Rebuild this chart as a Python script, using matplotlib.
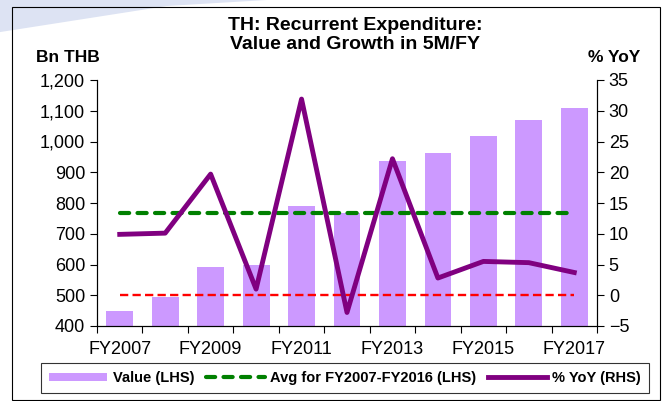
import matplotlib.pyplot as plt
from matplotlib.patches import Rectangle, Polygon
from matplotlib.ticker import FuncFormatter, FixedLocator
import numpy as np

plt.rcParams['font.family'] = ['Liberation Sans', 'DejaVu Sans']

years = ['FY2007', 'FY2008', 'FY2009', 'FY2010', 'FY2011', 'FY2012',
         'FY2013', 'FY2014', 'FY2015', 'FY2016', 'FY2017']
value = [450, 495, 592, 597, 789, 767, 937, 963, 1017, 1070, 1109]
yoy = [9.9, 10.1, 19.7, 1.0, 31.9, -2.8, 22.2, 2.8, 5.5, 5.3, 3.7]
avg_value = np.mean(value[:10])

fig = plt.figure(figsize=(6.67, 4.01), dpi=100)

# outer frame and faint watermark stripe
fig.patches.append(Rectangle((12 / 667, 1 - 400 / 401), 648 / 667, 393 / 401,
                             transform=fig.transFigure, fill=False,
                             edgecolor='black', linewidth=0.8))
fig.patches.append(Polygon([(0, 1), (0.4, 1), (0.25, 0.985), (0, 0.92)],
                           closed=True, transform=fig.transFigure,
                           facecolor='#dde3f3', edgecolor='none', zorder=-1))

ax = fig.add_axes([97 / 667, 1 - 326 / 401, 500 / 667, 246 / 401])
x = np.arange(len(years))

bars = ax.bar(x, value, width=0.59, color='#cc99ff', label='Value (LHS)', zorder=1)
avg_line, = ax.plot([x[0], x[-1]], [avg_value, avg_value], color='green',
                    linestyle=(0, (2.2, 2.0)), dash_capstyle='round', linewidth=3,
                    label='Avg for FY2007-FY2016 (LHS)', zorder=3)
ax.plot([x[0], x[-1]], [500, 500], color='red', linestyle=(0, (3.5, 1.8)), linewidth=1.7, zorder=2)
ax.set_ylim(400, 1200)
ax.set_xlim(-0.5, len(years) - 0.5)
ax.set_yticks(range(400, 1201, 100))
ax.yaxis.set_major_formatter(FuncFormatter(lambda v, p: f'{int(v):,}'))

ax.xaxis.set_major_locator(FixedLocator(np.arange(-0.5, len(years), 1)))
ax.set_xticklabels([])
ax.xaxis.set_minor_locator(FixedLocator(x[::2]))
ax.set_xticklabels(years[::2], minor=True)
ax.tick_params(axis='x', which='minor', length=0, labelsize=13, pad=11)
ax.tick_params(axis='x', which='major', length=5, direction='out')
ax.tick_params(axis='y', labelsize=13, length=5)

ax2 = ax.twinx()
yoy_line, = ax2.plot(x, yoy, color='#800080', linewidth=3.5, label='% YoY (RHS)', zorder=4)
ax2.set_ylim(-5, 35)
ax2.set_yticks(range(-5, 36, 5))
ax2.tick_params(axis='y', labelsize=13, length=5)

for a in (ax, ax2):
    a.spines['top'].set_visible(False)
    for s in a.spines.values():
        s.set_linewidth(0.8)

fig.text(355 / 667, 1 - 35 / 401, 'TH: Recurrent Expenditure:\nValue and Growth in 5M/FY',
         ha='center', va='center', fontsize=14, fontweight='bold', linespacing=1.2)
fig.text(36 / 667, 1 - 57 / 401, 'Bn THB', ha='left', va='center', fontsize=12.5, fontweight='bold')
fig.text(640 / 667, 1 - 58 / 401, '% YoY', ha='right', va='center', fontsize=12.5, fontweight='bold')

leg = fig.legend([bars, avg_line, yoy_line],
                 ['Value (LHS)', 'Avg for FY2007-FY2016 (LHS)', '% YoY (RHS)'],
                 loc='center', ncol=3,
                 bbox_to_anchor=(345 / 667, 1 - 378 / 401), frameon=True,
                 fancybox=False, edgecolor='black', prop={'weight': 'bold', 'size': 10.5},
                 handlelength=4.0, handleheight=0.5, columnspacing=0.8, handletextpad=0.4,
                 borderpad=0.55, borderaxespad=0)
leg.get_frame().set_linewidth(0.8)

fig.savefig('out.png', dpi=100)
